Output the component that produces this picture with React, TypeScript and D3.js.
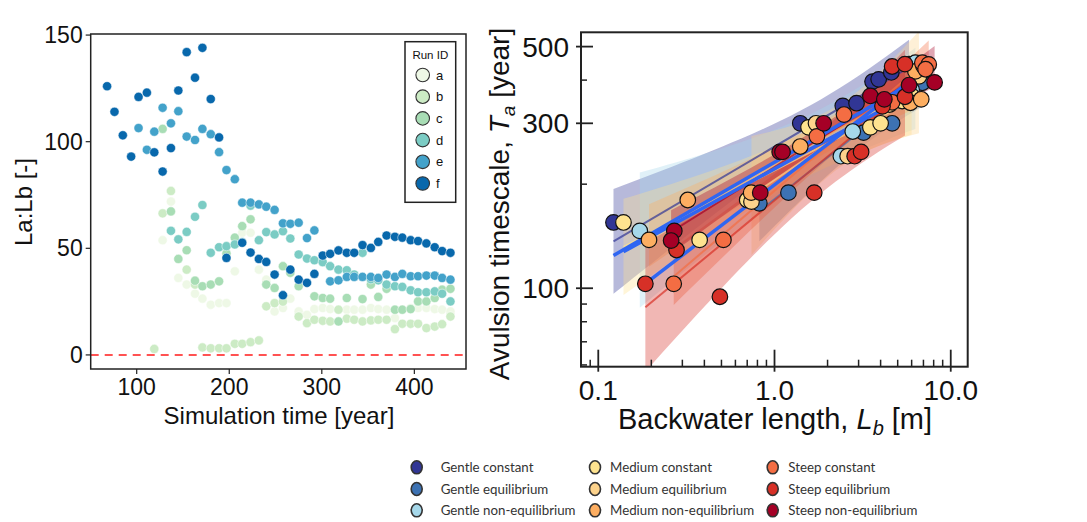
import React from 'react';
import * as d3 from 'd3';

// ---------- left panel data (La:Lb ratio vs simulation time) ----------
const times = [68, 76, 85, 94, 102, 111, 119, 128, 137, 145, 154, 163, 171, 180, 189, 197, 206, 214, 223, 232, 240, 249, 258, 266, 275, 284, 292, 301, 309, 318, 327, 335, 344, 353, 361, 370, 379, 387, 396, 404, 413, 422, 430, 439];

const runA = [null, null, null, null, null, null, null, 53.8, 71.9, 36.1,
  33, 28.7, 26.4, 23.5, 24.3, 24.3, 39.2, 57.3, 57.3, 40,
  35.3, 20.4, 22, 26.4, 20.4, 18.8, 21.5, 22, 21.5, null,
  21.2, 21.2, 21.2, 22, 21.5, 21.2, 17.3, null, 22, 22,
  22, 21.5, 21.2, 20.4];
const runB = [null, null, null, null, null, null, 2.8, 66.4, 76.9, null,
  40, 33, 3.5, 3.1, 3.1, 3.1, 5.2, 5.2, 6, 6.8,
  22.8, 24.3, 25, null, 18, 14.9, 16.5, 16, 15.7, 21.2,
  17, 16.5, 15.7, 16.2, 16.5, 16.5, 12.1, 14.6, 14.6, 14.6,
  12.6, 13.3, 14.4, 18];
const runC = [null, null, null, null, null, null, null, 106, 67.3, 45,
  49.1, 34.8, 32.2, 33, 34.5, 47.6, 55, 60.4, 63.6, null,
  33, 31.4, 41.6, 38.5, 32.2, null, 27.5, 26.7, 26.4, 15.7,
  26.7, null, 26.2, 33, 27.2, 31, 21.2, 21.2, 21.5, 25.1,
  25.1, 26.7, 30.6, 31];
const runD = [null, null, null, null, null, null, null, null, 58.2, 54.2,
  57.7, 64.8, 70.3, 47.9, 50.5, 51, 51.8, 52.9, 70, 53.8,
  57.6, 56.5, 58, 54.6, 47.1, 45.2, 44.4, 43.5, 41.6, 40,
  39.7, 37.7, 47.9, 35.5, 35, 33, 32.2, 31.9, 30.3, 29.4,
  29.4, 29.8, 28.7, 25.1];
const runE = [null, null, null, null, 106.4, 96.2, 104.7, 115.9, 108.6, 114.3,
  102.4, 100.8, 106, 103.5, 95.1, 86.7, 82.4, 71.4, 71.4, 70.6,
  69.5, 68, 61.7, 61.5, 62, 54.8, 58.4, null, 34.5, 35,
  36.6, 36.6, 36.6, 36.6, 36.1, 37.7, 36.6, 38, 36.9, 36.9,
  37.2, 37.2, 36.1, 35.3];
const runF = [126, 114, 103, 93, 121, 123, 95, 86, 97, 124,
  142, 130, 144, 120, 102, 45.5, null, 52.6, 48, 45,
  43.6, 37.7, 28, 40, 35.3, 33.8, 38, 46.6, 47.4, 49,
  47.9, 47.9, 51.5, 50.2, 53, 56, 55.4, 55, 53.8, 53.4,
  52.3, 50.5, 48.7, 47.9];

const runIds = ['a', 'b', 'c', 'd', 'e', 'f'];
const runSeries = [runA, runB, runC, runD, runE, runF];
const runColors = ['#eef8e6', '#ccebc5', '#a8ddb5', '#7bccc4', '#43a2ca', '#0868ac'];
const leftXTicks = [100, 200, 300, 400];
const leftYTicks = [0, 50, 100, 150];

// ---------- right panel data (avulsion timescale vs backwater length) ----------
// [Lb (m), Ta (year)]
const gentleConstant = [[0.122, 155], [0.8, 178], [1.4, 300], [2.44, 337], [2.92, 343], [3.6, 396], [3.9, 402], [4.6, 421], [5.8, 445]];
const gentleEquilibrium = [[0.82, 176], [1.2, 189], [3.2, 282], [4.65, 300], [6.9, 393], [6.5, 430]];
const gentleNonEq = [[0.172, 146.5], [2.38, 241], [2.78, 284], [6.3, 449], [6.0, 375]];
const mediumConstant = [[0.139, 155], [0.376, 138], [0.7, 180], [1.56, 292], [3.5, 292], [4.0, 300], [5.3, 348], [6.0, 360]];
const mediumEquilibrium = [[0.74, 178], [1.72, 300], [2.6, 241], [4.5, 340], [6.6, 410]];
const mediumNonEq = [[0.194, 138], [0.322, 180], [0.737, 189], [1.4, 257], [5.9, 344], [6.8, 352], [6.3, 424], [7.0, 440]];
const steepConstant = [[0.268, 103], [0.513, 138], [1.74, 275], [2.48, 318], [4.65, 345], [6.9, 449], [7.5, 444], [7.2, 430]];
const steepEquilibrium = [[0.185, 103], [0.278, 129], [0.49, 94.5], [1.68, 189], [2.85, 241], [3.1, 248], [4.1, 336], [4.65, 438], [5.5, 445], [5.5, 358]];
const steepNonEq = [[0.27, 146.5], [0.259, 137.4], [0.83, 189], [1.07, 248], [1.11, 248], [1.9, 300], [3.5, 360], [4.2, 352], [5.8, 387], [8.1, 394]];

const categories = [
  {name: 'Gentle constant', color: '#313695', data: gentleConstant, group: 0},
  {name: 'Gentle equilibrium', color: '#3d72b3', data: gentleEquilibrium, group: 0},
  {name: 'Gentle non-equilibrium', color: '#a6d8ea', data: gentleNonEq, group: 0},
  {name: 'Medium constant', color: '#fee38f', data: mediumConstant, group: 1},
  {name: 'Medium equilibrium', color: '#fdd38c', data: mediumEquilibrium, group: 1},
  {name: 'Medium non-equilibrium', color: '#fdae61', data: mediumNonEq, group: 1},
  {name: 'Steep constant', color: '#f46d43', data: steepConstant, group: 2},
  {name: 'Steep equilibrium', color: '#d73027', data: steepEquilibrium, group: 2},
  {name: 'Steep non-equilibrium', color: '#a50026', data: steepNonEq, group: 2},
];
const rightXMajor = [0.1, 1, 10];
const rightXLabels = ['0.1', '1.0', '10.0'];
const rightXMinor = [0.09, 0.2, 0.3, 0.4, 0.5, 0.6, 0.7, 0.8, 0.9, 2, 3, 4, 5, 6, 7, 8, 9];
const rightYMajor = [100, 300, 500];
const rightYMinor = [60, 70, 80, 90, 200, 400];

// log-log least squares fit with a confidence band
function fitLog(pts: number[][]) {
  const lx = pts.map(p => Math.log10(p[0]));
  const ly = pts.map(p => Math.log10(p[1]));
  const n = lx.length;
  const mx = d3.mean(lx)!, my = d3.mean(ly)!;
  const sxx = d3.sum(lx, v => (v - mx) ** 2);
  const sxy = d3.sum(lx, (v, i) => (v - mx) * (ly[i] - my));
  const b = sxy / sxx, a = my - b * mx;
  const sse = d3.sum(lx, (v, i) => (ly[i] - (a + b * v)) ** 2);
  const s = Math.sqrt(sse / Math.max(n - 2, 1));
  const t = 3.1;
  const [x0, x1] = d3.extent(lx) as [number, number];
  const band = d3.range(31).map(k => {
    const x = x0 + (x1 - x0) * k / 30;
    const yh = a + b * x;
    const se = t * s * Math.sqrt(1 / n + (x - mx) ** 2 / sxx);
    return {x, yh, lo: yh - se, hi: yh + se};
  });
  return {band, line: [[x0, a + b * x0], [x1, a + b * x1]]};
}

const F = 'Liberation Sans, Arial, sans-serif';

function LeftPanel() {
  const x = d3.scaleLinear().domain([50.3, 455.8]).range([90.7, 466]);
  const y = d3.scaleLinear().domain([-6.6, 150.5]).range([369, 34]);
  const [x0, x1] = x.range();
  const [yb, yt] = y.range();
  return (
    <g>
      <line x1={x0} x2={x1} y1={y(0)} y2={y(0)} stroke="#ff1a1a" strokeWidth={1.6} strokeDasharray="8,6" />
      {runSeries.map((s, k) => (
        <g key={k}>
          {s.map((v, i) => v == null ? null : (
            <circle key={i} cx={x(times[i])} cy={y(v)} r={4.6} fill={runColors[k]} stroke="#fff" strokeWidth={0.5} />
          ))}
        </g>
      ))}
      <rect x={x0} y={yt} width={x1 - x0} height={yb - yt} fill="none" stroke="#222" strokeWidth={1.5} />
      {leftYTicks.map(t => (
        <g key={t}>
          <line x1={x0 - 5} x2={x0} y1={y(t)} y2={y(t)} stroke="#222" strokeWidth={1.2} />
          <text x={x0 - 8} y={y(t) + 8} textAnchor="end" fontSize={23} fontFamily={F} fill="#111">{t}</text>
        </g>
      ))}
      {leftXTicks.map(t => (
        <g key={t}>
          <line x1={x(t)} x2={x(t)} y1={yb} y2={yb + 5} stroke="#222" strokeWidth={1.2} />
          <text x={x(t)} y={395} textAnchor="middle" fontSize={23} fontFamily={F} fill="#111">{t}</text>
        </g>
      ))}
      <text x={279} y={424} textAnchor="middle" fontSize={24} fontFamily={F} fill="#111">Simulation time [year]</text>
      <text transform="translate(32,202) rotate(-90)" textAnchor="middle" fontSize={24} fontFamily={F} fill="#111">La:Lb [-]</text>
      {/* run legend */}
      <rect x={405} y={41.7} width={50.7} height={160.6} fill="#fff" stroke="#222" strokeWidth={1.5} />
      <text x={430.3} y={58.5} textAnchor="middle" fontSize={11.5} fontFamily={F} fill="#111">Run ID</text>
      {runIds.map((id, i) => (
        <g key={id}>
          <circle cx={422.7} cy={75 + 21.7 * i} r={6.8} fill={runColors[i]} stroke="#333" strokeWidth={1.1} />
          <text x={436} y={79.5 + 21.7 * i} fontSize={13} fontFamily={F} fill="#111">{id}</text>
        </g>
      ))}
    </g>
  );
}

function RightPanel() {
  const x = d3.scaleLog().domain([0.0798, 12.48]).range([581, 967.7]);
  const y = d3.scaleLog().domain([59.3, 550]).range([366.7, 32.3]);
  const [x0, x1] = x.range();
  const [yb, yt] = y.range();
  const area = d3.area<any>().x(d => x(10 ** d.x)).y0(d => y(10 ** d.lo)).y1(d => y(10 ** d.hi));
  const fits = categories.map(c => fitLog(c.data));
  const groupFits = [0, 1, 2].map(g => fitLog(categories.filter(c => c.group === g).flatMap(c => c.data)));
  return (
    <g>
      <defs>
        <clipPath id="rclip"><rect x={x0} y={yt} width={x1 - x0} height={yb - yt} /></clipPath>
      </defs>
      <g clipPath="url(#rclip)">
        {fits.map((f, i) => (
          <path key={i} d={area(f.band) || ''} fill={categories[i].color} fillOpacity={0.35} stroke="none" />
        ))}
        {fits.map((f, i) => (
          <line key={i} x1={x(10 ** f.line[0][0])} y1={y(10 ** f.line[0][1])} x2={x(10 ** f.line[1][0])} y2={y(10 ** f.line[1][1])}
            stroke={categories[i].color} strokeOpacity={0.7} strokeWidth={2} />
        ))}
        {groupFits.map((f, i) => (
          <line key={i} x1={x(10 ** f.line[0][0])} y1={y(10 ** f.line[0][1])} x2={x(10 ** f.line[1][0])} y2={y(10 ** f.line[1][1])}
            stroke="#2f66f2" strokeWidth={3.5} />
        ))}
        {categories.map((c, i) => (
          <g key={i}>
            {c.data.map((p, j) => (
              <circle key={j} cx={x(p[0])} cy={y(p[1])} r={7.8} fill={c.color} stroke="#111" strokeWidth={1.2} />
            ))}
          </g>
        ))}
      </g>
      <rect x={x0} y={yt} width={x1 - x0} height={yb - yt} fill="none" stroke="#222" strokeWidth={2} />
      {rightYMajor.map(t => (
        <g key={t}>
          <line x1={x0 - 5} x2={x0 + 12} y1={y(t)} y2={y(t)} stroke="#222" strokeWidth={1.8} />
          <text x={569} y={y(t) + 10} textAnchor="end" fontSize={28} fontFamily={F} fill="#111">{t}</text>
        </g>
      ))}
      {rightYMinor.map(t => (
        <line key={t} x1={x0} x2={x0 + 6} y1={y(t)} y2={y(t)} stroke="#222" strokeWidth={1.5} />
      ))}
      {rightXMajor.map((t, i) => (
        <g key={t}>
          <line x1={x(t)} x2={x(t)} y1={yb - 17} y2={yb + 5} stroke="#222" strokeWidth={1.8} />
          <text x={x(t)} y={400} textAnchor="middle" fontSize={28} fontFamily={F} fill="#111">{rightXLabels[i]}</text>
        </g>
      ))}
      {rightXMinor.map(t => (
        <line key={t} x1={x(t)} x2={x(t)} y1={yb - 7} y2={yb} stroke="#222" strokeWidth={1.5} />
      ))}
      <text x={775} y={429} textAnchor="middle" fontSize={29} fontFamily={F} fill="#111">
        Backwater length, <tspan fontStyle="italic">L</tspan><tspan fontStyle="italic" fontSize={20} dy={6}>b</tspan><tspan dy={-6}> [m]</tspan>
      </text>
      <text transform="translate(509,204) rotate(-90)" textAnchor="middle" fontSize={28} fontFamily={F} fill="#111">
        Avulsion timescale, <tspan fontStyle="italic">T</tspan><tspan fontStyle="italic" fontSize={19} dy={6}>a</tspan><tspan dy={-6}> [year]</tspan>
      </text>
    </g>
  );
}

function BottomLegend() {
  const colX = [416.7, 595, 772.7];
  const textX = [440.7, 610, 788.3];
  const rowY = [467.3, 489, 510.3];
  return (
    <g>
      {categories.map((c, i) => {
        const col = Math.floor(i / 3), cy = rowY[i % 3];
        return (
          <g key={c.name}>
            <ellipse cx={colX[col]} cy={cy} rx={5.5} ry={6.5} fill={c.color} stroke="#333" strokeWidth={1.6} />
            <text x={textX[col]} y={cy + 5} fontSize={13.3} fontFamily="Lato, sans-serif" fill="#333">{c.name}</text>
          </g>
        );
      })}
    </g>
  );
}

export default function App() {
  return (
    <svg width={1087} height={522} style={{position: 'absolute', left: 0, top: 0, background: '#fff'}}>
      <rect width={1087} height={522} fill="#fff" />
      <LeftPanel />
      <RightPanel />
      <BottomLegend />
    </svg>
  );
}
